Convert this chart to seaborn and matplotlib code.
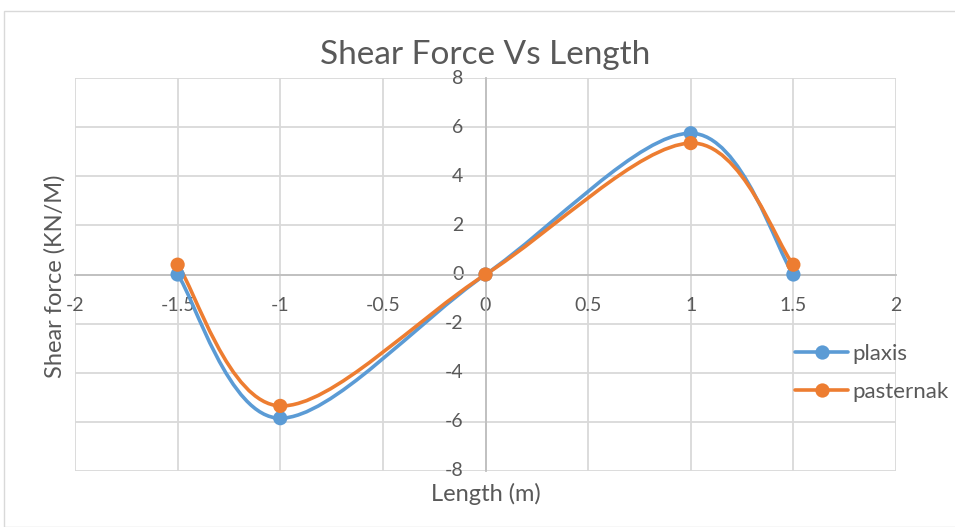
import numpy as np
import pandas as pd
import matplotlib
matplotlib.use("Agg")
import matplotlib.pyplot as plt
import seaborn as sns
from matplotlib.path import Path
from matplotlib.patches import PathPatch, Rectangle
from matplotlib.lines import Line2D

# Shear force along the beam for the two models
length = [-1.5, -1.0, 0.0, 1.0, 1.5]
plaxis = [0.0, -5.85, 0.0, 5.75, 0.0]
pasternak = [0.4, -5.35, 0.0, 5.35, 0.4]

series_names = ["plaxis", "pasternak"]
colors = {"plaxis": "#5B9BD5", "pasternak": "#ED7D31"}
x_ticks = [-2, -1.5, -1, -0.5, 0, 0.5, 1, 1.5, 2]
y_ticks = [-8, -6, -4, -2, 0, 2, 4, 6, 8]

df = pd.concat([
    pd.DataFrame({"Length": length, "Shear": plaxis, "Model": "plaxis"}),
    pd.DataFrame({"Length": length, "Shear": pasternak, "Model": "pasternak"}),
])

sns.set_theme(style="white")
plt.rcParams["font.family"] = ["Lato", "DejaVu Sans"]
text_color = "#595959"
grid_color = "#D9D9D9"


def smooth_path(xs, ys):
    """Cardinal-spline Bezier path through the points (spreadsheet-style smoothing)."""
    pts = np.column_stack([xs, ys]).astype(float)
    n = len(pts)
    verts = [pts[0]]
    codes = [Path.MOVETO]
    for i in range(n - 1):
        p0 = pts[max(i - 1, 0)]
        p1 = pts[i]
        p2 = pts[i + 1]
        p3 = pts[min(i + 2, n - 1)]
        verts += [p1 + (p2 - p0) / 6.0, p2 - (p3 - p1) / 6.0, p2]
        codes += [Path.CURVE4] * 3
    return Path(verts, codes)


fig = plt.figure(figsize=(9.55, 5.27), dpi=100)
fig.patch.set_facecolor("white")
fig.add_artist(Rectangle((4 / 955, 0), 1, 1 - 11 / 527, transform=fig.transFigure,
                         fill=False, edgecolor=grid_color, linewidth=1))

ax = fig.add_axes([75 / 955, 1 - 471 / 527, 821 / 955, 393 / 527])
ax.set_xlim(-2, 2)
ax.set_ylim(-8, 8)
ax.set_xticks(x_ticks)
ax.set_yticks(y_ticks)
ax.set_xticklabels([f"{t:g}" for t in x_ticks])
ax.set_yticklabels([f"{t:g}" for t in y_ticks])
ax.grid(True, color=grid_color, linewidth=1.3)
ax.set_axisbelow(True)

for side in ["top", "right"]:
    ax.spines[side].set_visible(False)
for side in ["left", "bottom"]:
    ax.spines[side].set_position(("data", 0))
    ax.spines[side].set_color("#BFBFBF")
    ax.spines[side].set_linewidth(1.3)

ax.tick_params(axis="both", length=0, labelsize=14, labelcolor=text_color)
ax.tick_params(axis="x", pad=16)
ax.tick_params(axis="y", pad=16)
for lbl in ax.get_yticklabels():
    lbl.set_verticalalignment("center")

for name, ys in zip(series_names, [plaxis, pasternak]):
    ax.add_patch(PathPatch(smooth_path(length, ys), facecolor="none",
                           edgecolor=colors[name], linewidth=2.6, zorder=3,
                           capstyle="round", joinstyle="round"))

sns.scatterplot(data=df, x="Length", y="Shear", hue="Model", palette=colors,
                s=105, edgecolor="none", legend=False, zorder=4, ax=ax)
ax.set_xlabel("")
ax.set_ylabel("")

handles = [Line2D([0], [0], color=colors[n], linewidth=2.6, marker="o",
                  markersize=10.3, markeredgewidth=0) for n in series_names]
fig.legend(handles, series_names, loc="center left",
           bbox_to_anchor=(795 / 955, 1 - 373 / 527), frameon=False,
           borderpad=0, borderaxespad=0,
           fontsize=16, labelcolor=text_color, handlelength=2.4,
           handletextpad=0.2, labelspacing=0.82)

fig.text(485 / 955, 1 - 55 / 527, "Shear Force Vs Length", ha="center",
         va="center", fontsize=24, color=text_color)
fig.text(486 / 955, 1 - 494 / 527, "Length (m)", ha="center", va="center",
         fontsize=17, color=text_color)
fig.text(55 / 955, 1 - 276 / 527, "Shear force (KN/M)", ha="center",
         va="center", rotation=90, fontsize=17, color=text_color)

fig.savefig("out.png", dpi=100)
